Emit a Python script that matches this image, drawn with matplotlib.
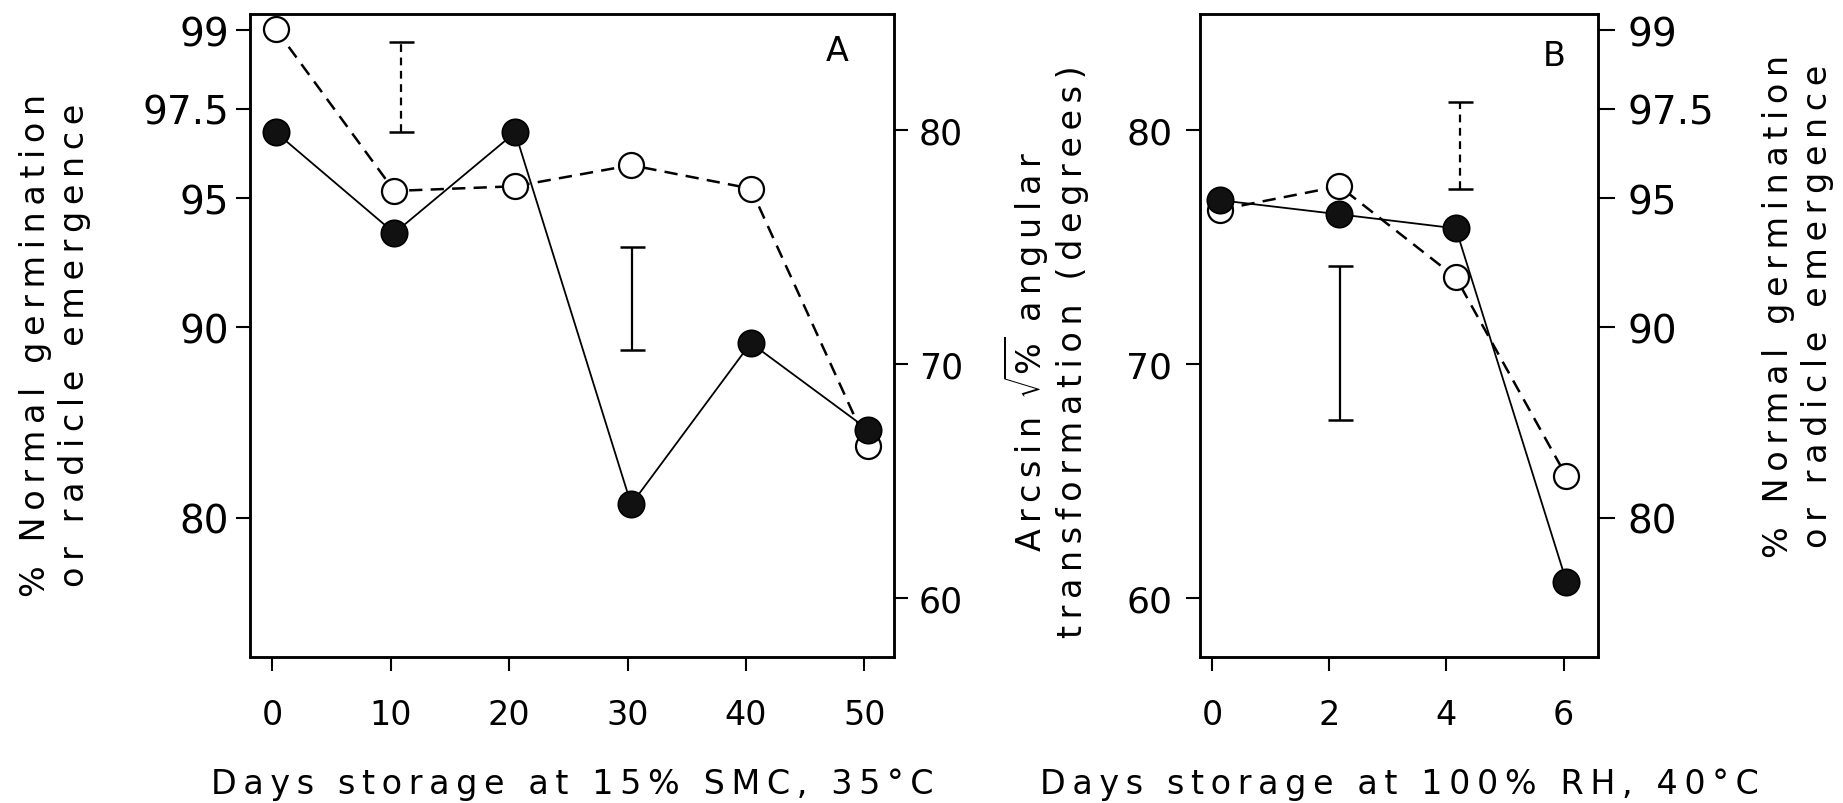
"""Seed germination vs storage days, two panels with arcsin / percent twin axes."""
import numpy as np
import matplotlib

matplotlib.use("Agg")
import matplotlib.pyplot as plt

plt.rcParams["font.family"] = ["DejaVu Sans"]
plt.rcParams["mathtext.fontset"] = "dejavusans"

# panel A: storage at 15% SMC, 35 C (values in arcsin degrees)
days_a = [0.3, 10.3, 20.5, 30.3, 40.4, 50.3]
open_a = [84.3, 77.4, 77.6, 78.5, 77.5, 66.5]
filled_a = [79.9, 75.6, 79.9, 64.0, 70.9, 67.2]
bar_days_a = [10.9, 30.4]          # dashed bar, solid bar
bar_lo_a = [79.9, 70.6]
bar_hi_a = [83.75, 75.0]

# panel B: storage at 100% RH, 40 C
days_b = [0.14, 2.17, 4.16, 6.05]
open_b = [76.6, 77.6, 73.7, 65.2]
filled_b = [77.0, 76.4, 75.8, 60.7]
bar_days_b = [4.24, 2.19]          # dashed bar, solid bar
bar_lo_b = [77.5, 67.6]
bar_hi_b = [81.2, 74.2]

pct_ticks = [80, 90, 95, 97.5, 99]
pct_labels = ["80", "90", "95", "97.5", "99"]
deg_ticks = [60, 70, 80]
xticks_a = [0, 10, 20, 30, 40, 50]
xticks_b = [0, 2, 4, 6]

YLIM = (57.46, 84.95)
FS = 24
FS_PCT = 28


def pct_to_deg(p):
    return np.degrees(np.arcsin(np.sqrt(np.asarray(p, dtype=float) / 100.0)))


def spaced(s):
    # the original is set in a wide, letter-spaced face
    return "\u2009".join(s)


def draw_series(ax, x, y_open, y_filled):
    ax.plot(x, y_open, color="black", lw=1.8, ls=(0, (5.3, 3.3)),
            marker="o", ms=18, mfc="white", mec="black", mew=1.6, zorder=3)
    ax.plot(x, y_filled, color="black", lw=1.3, ls="-",
            marker="o", ms=19, mfc="#111111", mec="black", mew=1.2, zorder=4)


def draw_bar(ax, x, lo, hi, dashed):
    mid = (lo + hi) / 2.0
    eb = ax.errorbar([x], [mid], yerr=[(hi - lo) / 2.0], fmt="none",
                     ecolor="black", elinewidth=1.6, capsize=9, capthick=1.8)
    if dashed:
        eb[2][0].set_linestyle((0, (3.5, 2.5)))


def style_axis(ax, xlim, xticks):
    ax.set_xlim(*xlim)
    ax.set_ylim(*YLIM)
    ax.set_xticks(xticks)
    ax.set_xticklabels([str(t) for t in xticks], fontsize=FS)
    ax.tick_params(axis="x", direction="out", length=10, width=1.5, pad=19)
    for sp in ax.spines.values():
        sp.set_linewidth(1.8)


fig = plt.figure(figsize=(18.43, 8.04), dpi=100)

# ---- panel A ----
ax_a = fig.add_axes([0.1356, 0.181, 0.3495, 0.800])
draw_series(ax_a, days_a, open_a, filled_a)
draw_bar(ax_a, bar_days_a[0], bar_lo_a[0], bar_hi_a[0], dashed=True)
draw_bar(ax_a, bar_days_a[1], bar_lo_a[1], bar_hi_a[1], dashed=False)
style_axis(ax_a, (-1.9, 52.5), xticks_a)
ax_a.set_yticks(pct_to_deg(pct_ticks))
ax_a.set_yticklabels(pct_labels, fontsize=FS_PCT)
ax_a.tick_params(axis="y", direction="out", length=10, width=1.5, pad=5)
ax_a.set_xlabel(spaced("Days storage at 15% SMC, 35°C"), fontsize=FS, labelpad=26)
ax_a.text(0.911, 0.944, "A", transform=ax_a.transAxes, fontsize=FS,
          ha="center", va="center")

ax_a2 = ax_a.twinx()
ax_a2.set_ylim(*YLIM)
ax_a2.set_yticks(deg_ticks)
ax_a2.set_yticklabels([str(t) for t in deg_ticks], fontsize=FS + 1)
ax_a2.tick_params(axis="y", direction="out", length=10, width=1.5, pad=8)
for sp in ax_a2.spines.values():
    sp.set_linewidth(1.8)

# ---- panel B ----
ax_b = fig.add_axes([0.6511, 0.181, 0.2160, 0.800])
draw_series(ax_b, days_b, open_b, filled_b)
draw_bar(ax_b, bar_days_b[0], bar_lo_b[0], bar_hi_b[0], dashed=True)
draw_bar(ax_b, bar_days_b[1], bar_lo_b[1], bar_hi_b[1], dashed=False)
style_axis(ax_b, (-0.21, 6.59), xticks_b)
ax_b.set_yticks(deg_ticks)
ax_b.set_yticklabels([str(t) for t in deg_ticks], fontsize=FS + 2)
ax_b.tick_params(axis="y", direction="out", length=10, width=1.5, pad=10)
ax_b.set_xlabel(spaced("Days storage at 100% RH, 40°C"), fontsize=FS, labelpad=26)
ax_b.text(0.889, 0.936, "B", transform=ax_b.transAxes, fontsize=FS,
          ha="center", va="center")

ax_b2 = ax_b.twinx()
ax_b2.set_ylim(*YLIM)
ax_b2.set_yticks(pct_to_deg(pct_ticks))
ax_b2.set_yticklabels(pct_labels, fontsize=FS_PCT)
ax_b2.tick_params(axis="y", direction="out", length=12, width=1.5, pad=9)
for sp in ax_b2.spines.values():
    sp.set_linewidth(1.8)

# ---- axis titles ----
pct_title = spaced("% Normal germination") + "\n" + spaced("or radicle emergence")
fig.text(55 / 1843, 1 - 345 / 804, pct_title, rotation=90, fontsize=FS,
         ha="center", va="center", multialignment="center", linespacing=1.25)
fig.text(1798 / 1843, 1 - 306 / 804, pct_title, rotation=90, fontsize=FS,
         ha="center", va="center", multialignment="center", linespacing=1.25)
arc_title = (spaced("Arcsin ") + r"$\sqrt{\%}$" + spaced(" angular") + "\n"
             + spaced("transformation (degrees)"))
fig.text(1045 / 1843, 1 - 352 / 804, arc_title, rotation=90, fontsize=FS,
         ha="center", va="center", multialignment="center", linespacing=1.25)

fig.savefig("out.png", dpi=100, facecolor="white")
